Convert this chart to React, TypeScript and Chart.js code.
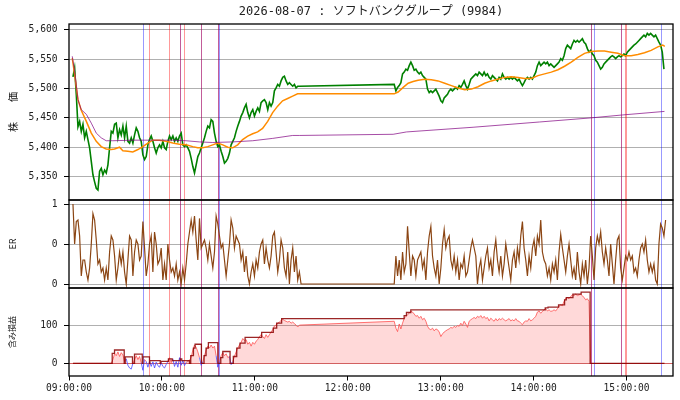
import { useEffect, useRef } from "react"
import { Chart, registerables } from "chart.js"

Chart.register(...registerables)

const TITLE = "2026-08-07 : ソフトバンクグループ (9984)"
const MONO = "'DejaVu Sans Mono', 'Noto Sans CJK JP', monospace"
const JP = "'Noto Sans CJK JP', sans-serif"

// x values are minutes after 09:00; sampled series use a fixed step
const AM_START = 2.56
const PM_START = 210
const STEP = 1.075

const X_TICK_MINUTES = [0, 60, 120, 180, 240, 300, 360]
const X_TICK_LABELS = ["09:00:00", "10:00:00", "11:00:00", "12:00:00", "13:00:00", "14:00:00", "15:00:00"]
const PRICE_TICKS = [5350, 5400, 5450, 5500, 5550, 5600]
const ER_TICKS = [0, 0.5, 1]
const ER_TICK_LABELS = ["0", "0", "1"]
const PROFIT_TICKS = [0, 100]

const priceAM = [
  5520, 5535, 5490, 5435, 5444, 5427, 5439, 5416, 5427, 5413,
  5399, 5376, 5353, 5341, 5330, 5327, 5359, 5364, 5353, 5361,
  5356, 5370, 5399, 5427, 5424, 5439, 5441, 5416, 5430, 5421,
  5436, 5416, 5436, 5410, 5407, 5416, 5407, 5421, 5433, 5427,
  5416, 5410, 5387, 5379, 5384, 5404, 5413, 5419, 5410, 5399,
  5390, 5399, 5404, 5399, 5410, 5399, 5396, 5410, 5419, 5413,
  5419, 5410, 5416, 5410, 5419, 5424, 5404, 5401, 5404, 5399,
  5393, 5381, 5367, 5356, 5370, 5384, 5390, 5399, 5407, 5416,
  5427, 5436, 5433, 5447, 5444, 5424, 5410, 5401, 5404, 5393,
  5384, 5373, 5376, 5381, 5390, 5404, 5410, 5416, 5427, 5436,
  5444, 5453, 5459, 5467, 5473, 5459, 5450, 5459, 5464, 5453,
  5461, 5467, 5461, 5476, 5479, 5481, 5476, 5464, 5476, 5470,
  5476, 5496, 5501, 5507, 5504, 5513, 5519, 5521, 5513, 5507,
  5510, 5507, 5504, 5507, 5501, 5504, 5504,
]

const pricePM = [
  5507, 5496, 5502, 5505, 5510, 5525, 5528, 5533, 5531, 5539,
  5545, 5539, 5531, 5533, 5528, 5525, 5528, 5522, 5519, 5516,
  5499, 5493, 5496, 5493, 5496, 5499, 5493, 5487, 5479, 5476,
  5484, 5487, 5490, 5496, 5499, 5496, 5499, 5502, 5499, 5505,
  5502, 5507, 5513, 5505, 5499, 5507, 5516, 5519, 5522, 5525,
  5522, 5528, 5525, 5522, 5528, 5522, 5525, 5519, 5516, 5522,
  5519, 5516, 5513, 5519, 5516, 5525, 5519, 5516, 5519, 5516,
  5519, 5516, 5519, 5516, 5513, 5516, 5510, 5505, 5510, 5516,
  5519, 5516, 5519, 5516, 5522, 5528, 5539, 5545, 5539, 5542,
  5545, 5542, 5545, 5539, 5542, 5539, 5536, 5539, 5542, 5545,
  5551, 5548, 5556, 5568, 5574, 5571, 5568, 5576, 5582, 5579,
  5582, 5579, 5582, 5585, 5579, 5576, 5568, 5562, 5565, 5559,
  5556, 5548, 5545, 5539, 5533, 5536, 5542, 5545, 5548, 5551,
  5554, 5556, 5554, 5551, 5554, 5556, 5554, 5556, 5559, 5556,
  5562, 5565, 5568, 5571, 5574, 5576, 5579, 5582, 5585, 5588,
  5591, 5588, 5594, 5591, 5594, 5591, 5588, 5591, 5585, 5579,
  5574, 5562, 5533,
]

const maTimes = [
  2.1, 3.6, 5.8, 7.9, 11.2, 14.4, 17.6, 20.8, 24.0, 27.3, 29.4, 32.6, 34.8, 38.0, 41.2,
  44.5, 47.7, 50.9, 54.1, 58.4, 62.7, 67.0, 71.3, 75.6, 79.9, 83.1, 86.4, 89.6, 92.8,
  96.0, 99.3, 102.5, 105.7, 108.9, 112.1, 115.4, 118.6, 121.8, 125.0, 128.3, 131.5,
  134.7, 137.9, 141.2, 144.4, 147.6, 150,
  210.0, 212.5, 215.8, 219.0, 222.2, 225.4, 229.7, 234.0, 238.3, 242.6, 246.9, 251.2,
  255.5, 259.8, 264.1, 268.4, 272.7, 277.0, 281.3, 285.6, 289.9, 294.2, 298.5, 302.8,
  307.1, 311.4, 315.7, 320.0, 324.3, 328.6, 332.9, 337.2, 341.5, 345.8, 350.1, 354.4,
  358.7, 363.0, 367.3, 371.6, 375.9, 380.2, 383.4, 384.7,
]
const maValues = [
  5552, 5525, 5481, 5463, 5444, 5424, 5410, 5401, 5397, 5396, 5397, 5400, 5394, 5393, 5392,
  5396, 5401, 5407, 5412, 5412, 5410, 5407, 5405, 5404, 5401, 5399, 5399, 5401, 5404,
  5407, 5404, 5400, 5399, 5404, 5413, 5419, 5423, 5426, 5432, 5444, 5459,
  5470, 5479, 5483, 5487, 5491, 5491,
  5491, 5494, 5502, 5509, 5512, 5514, 5516, 5515, 5513, 5509, 5505, 5501,
  5498, 5499, 5503, 5509, 5513, 5516, 5519, 5520, 5519, 5517, 5517, 5522,
  5525, 5528, 5532, 5538, 5545, 5553, 5560, 5563, 5564, 5564, 5562, 5560,
  5556, 5556, 5558, 5561, 5565, 5571, 5574, 5572,
]

const longTimes = [
  2.1, 3.6, 5.8, 7.9, 11.2, 14.4, 17.6, 20.8, 24.0, 28.3, 41.2, 54.1, 67.0, 75.6,
  84.2, 92.8, 105.7, 118.6, 131.5, 144.4, 148.7, 209.3, 217.9, 260.9, 303.9, 337.2,
  357.6, 384.5,
]
const longValues = [
  5555, 5530, 5481, 5464, 5456, 5441, 5424, 5416, 5411, 5411, 5412, 5412, 5412, 5411,
  5409, 5408, 5409, 5411, 5415, 5420, 5420, 5422, 5426, 5434, 5443, 5450,
  5455, 5461,
]

const erAM = [
  1.0, 0.5, 0.78, 0.8, 0.6, 0.1, 0.3, 0.3, 0.15, 0.05,
  0.2, 0.5, 0.88, 0.8, 0.55, 0.25, 0.3, 0.15, 0.2, 0.05,
  0.2, 0.05, 0.4, 0.6, 0.55, 0.35, 0.05, 0.2, 0.4, 0.25,
  0.4, 0.15, 0.0, 0.3, 0.6, 0.55, 0.1, 0.4, 0.55, 0.5,
  0.3, 0.35, 0.78, 0.45, 0.1, 0.25, 0.5, 0.6, 0.15, 0.65,
  0.5, 0.25, 0.3, 0.45, 0.05, 0.25, 0.05, 0.5, 0.3, 0.15,
  0.2, 0.1, 0.25, 0.05, 0.15, 0.0, 0.2, 0.05, 0.25, 0.5,
  0.65, 0.8, 0.65, 0.85, 0.55, 0.3, 0.82, 0.45, 0.5, 0.55,
  0.45, 0.3, 0.5, 0.35, 0.2, 0.4, 0.85, 0.75, 0.6, 0.45,
  0.5, 0.3, 0.1, 0.3, 0.5, 0.8, 0.7, 0.45, 0.6, 0.55,
  0.5, 0.3, 0.4, 0.15, 0.35, 0.1, 0.0, 0.15, 0.25, 0.1,
  0.3, 0.2, 0.4, 0.5, 0.55, 0.25, 0.45, 0.3, 0.2, 0.35,
  0.6, 0.65, 0.4, 0.15, 0.3, 0.55, 0.45, 0.2, 0.1, 0.4,
  0.0, 0.3, 0.45, 0.15, 0.35, 0.05, 0.15, 0.0,
]

const erPM = [
  0.0, 0.35, 0.1, 0.3, 0.05, 0.4, 0.15, 0.25, 0.72, 0.4,
  0.1, 0.35, 0.3, 0.1, 0.3, 0.35, 0.4, 0.2, 0.3, 0.05,
  0.4, 0.6, 0.72, 0.35, 0.2, 0.1, 0.3, 0.0, 0.2, 0.5,
  0.68, 0.45, 0.55, 0.6, 0.3, 0.2, 0.35, 0.15, 0.3, 0.05,
  0.25, 0.2, 0.35, 0.1, 0.15, 0.3, 0.45, 0.55, 0.45, 0.35,
  0.0, 0.2, 0.3, 0.05, 0.2, 0.35, 0.45, 0.2, 0.3, 0.1,
  0.4, 0.55, 0.3, 0.15, 0.35, 0.1, 0.25, 0.5, 0.35, 0.2,
  0.05, 0.3, 0.4, 0.2, 0.45, 0.3, 0.6, 0.78, 0.45, 0.3,
  0.1, 0.35, 0.2, 0.45, 0.55, 0.35, 0.6, 0.5, 0.8, 0.4,
  0.3, 0.25, 0.1, 0.2, 0.05, 0.25, 0.15, 0.3, 0.05, 0.4,
  0.62, 0.45, 0.3, 0.15, 0.35, 0.5, 0.3, 0.1, 0.2, 0.05,
  0.4, 0.15, 0.0, 0.25, 0.1, 0.3, 0.0, 0.2, 0.6, 0.35,
  0.05, 0.45, 0.6, 0.5, 0.65, 0.4, 0.25, 0.45, 0.3, 0.1,
  0.5, 0.25, 0.0, 0.3, 0.55, 0.6, 0.2, 0.05, 0.2, 0.35,
  0.3, 0.4, 0.3, 0.35, 0.15, 0.2, 0.1, 0.3, 0.45, 0.5,
  0.4, 0.55, 0.3, 0.15, 0.25, 0.15, 0.25, 0.05, 0.0, 0.5,
  0.75, 0.7, 0.6, 0.8,
]

const profitAM = [
  0, 0, 0, 0, 0, 0, 0, 0, 0, 0,
  0, 0, 0, 0, 0, 0, 0, 0, 0, 0,
  0, 0, 0, 0, 10, 25, 20, 30, 18, 28,
  22, 5, 12, -5, -12, -15, 0, 10, 20, 10,
  18, 2, -18, 10, 5, -10, 5, -8, 4, -12,
  3, -6, -10, 2, -8, -12, -3, 5, 15, 2,
  12, -8, 5, -10, 15, -5, 8, -6, 3, 5,
  8, 15, 35, 48, 42, 30, 15, -5, 5, 20,
  35, 45, 40, 48, 40, 45, 20, -10, 5, 20,
  28, 20, 25, 15, 18, -3, 5, 18, 30, 40,
  48, 55, 65, 60, 62, 50, 55, 45, 55, 50,
  58, 62, 70, 75, 70, 65, 75, 68, 75, 82,
  88, 98, 100, 105, 108, 112, 115, 112, 110, 108,
  110, 105, 108, 104, 100, 95, 100,
]

const profitPM = [
  110, 92, 83, 103, 90, 105, 118, 123, 127, 131,
  136, 134, 129, 123, 125, 118, 123, 114, 118, 110,
  97, 90, 88, 92, 85, 90, 88, 82, 70, 77,
  82, 85, 88, 90, 94, 92, 97, 94, 99, 97,
  105, 99, 110, 103, 94, 110, 114, 117, 120, 117,
  123, 120, 125, 118, 123, 117, 120, 111, 118, 114,
  110, 117, 111, 117, 114, 118, 114, 111, 114, 117,
  111, 114, 111, 117, 111, 110, 105, 101, 108, 111,
  110, 117, 111, 114, 118, 123, 134, 137, 131, 136,
  140, 143, 137, 140, 136, 137, 140, 137, 143, 149,
  153, 151, 162, 170, 172, 169, 175, 179, 177, 181,
  177, 179, 181, 177, 172, 166, 169, 162, 0,
]

// running peak of the open position: value holds from its time to the next one
const peakTimes = [
  2.56, 27.9, 29.4, 35.65, 36.3, 41.0, 42.3, 47.3, 47.7, 51.97, 52.2, 58.9, 59.3, 64.2,
  66.6, 71.8, 72.8, 77.8, 78.6, 80.35, 81.4, 85.5, 87.2, 88.5, 90.0, 96.1, 98.0, 99.3,
  104.0, 106.1, 108.3, 110.4, 113.7, 124.4, 131.9, 134.1, 137.3, 216.4, 217.9, 220.7,
  307.5, 309.3, 316.1, 320.0, 321.1, 325.4, 330.7, 336.5, 384.5,
]
const peakValues = [
  0, 26, 35, 0, 17, 0, 24, 0, 17, 0, 7, 0, 5, 12,
  7, 12, 7, 0, 20, 40, 50, 0, 20, 40, 54, 0, 15, 31,
  0, 18, 40, 53, 68, 81, 92, 105, 117, 125, 133, 140,
  145, 147, 153, 166, 172, 181, 186, 0, 0,
]

const entryTimes = [47.46, 71.57, 85.5, 96.08, 96.59, 337.23, 338.91, 356.57, 382.56]
const exitTimes = [51.97, 64.48, 71.96, 74.15, 85.5, 96.08, 337.23, 356.57, 359.15, 359.8]

const sampled = (start: number, values: number[]) =>
  values.map((y, i) => ({ x: start + i * STEP, y }))
const paired = (times: number[], values: number[]) =>
  times.map((x, i) => ({ x, y: values[i] }))

const tickFont = { family: MONO, size: 9.6 }

const panelsPlugin = {
  id: "panels",
  beforeDatasetsDraw(chart: any) {
    const { ctx, chartArea, scales } = chart
    ctx.save()
    ctx.lineWidth = 1
    const draw = (times: number[], color: string) => {
      ctx.strokeStyle = color
      times.forEach((t) => {
        const px = Math.round(scales.x.getPixelForValue(t)) + 0.5
        ctx.beginPath()
        ctx.moveTo(px, chartArea.top)
        ctx.lineTo(px, chartArea.bottom)
        ctx.stroke()
      })
    }
    draw(entryTimes, "rgba(0, 0, 255, 0.4)")
    draw(exitTimes, "rgba(255, 0, 0, 0.4)")
    ctx.restore()
  },
  afterDatasetsDraw(chart: any) {
    const { ctx, chartArea, scales } = chart
    ctx.save()
    ctx.strokeStyle = "#000"
    ctx.lineWidth = 1.3
    ;["yPrice", "yEr", "yProfit"].forEach((id) => {
      const s = scales[id]
      ctx.strokeRect(chartArea.left, s.top, chartArea.right - chartArea.left, s.bottom - s.top)
    })
    ctx.restore()
  },
}

function yAxis(weight: number, min: number, max: number, ticks: number[], label: (v: number, i: number) => string, title: string, titleFont: any) {
  return {
    type: "linear" as const,
    position: "left" as const,
    stack: "panels",
    stackWeight: weight,
    min,
    max,
    afterBuildTicks: (scale: any) => {
      scale.ticks = ticks.map((value) => ({ value }))
    },
    afterFit: (scale: any) => {
      scale.width = 69
    },
    ticks: {
      callback: (v: any, i: number) => label(Number(v), i),
      font: tickFont,
      color: "#222",
      padding: 6.5,
      autoSkip: false,
    },
    grid: {
      color: (c: any) => (title === "含み損益" && c.tick && c.tick.value === 0 ? "rgba(205, 80, 80, 0.9)" : "#b0b0b0"),
      lineWidth: 1,
      tickLength: 5,
      tickColor: "#000",
    },
    border: { display: false },
    title: {
      display: true,
      text: title,
      font: titleFont,
      color: "#111",
      padding: { top: 7, bottom: 0 },
    },
  }
}

export default function App() {
  const chartRef = useRef<HTMLCanvasElement>(null)
  const chartInstance = useRef<Chart | null>(null)

  useEffect(() => {
    document.body.style.margin = "0"
    if (!chartRef.current) return

    if (chartInstance.current) {
      chartInstance.current.destroy()
    }

    const ctx = chartRef.current.getContext("2d")
    if (!ctx) return

    chartInstance.current = new Chart(ctx, {
      type: "line",
      data: {
        datasets: [
          {
            label: "peak",
            data: paired(peakTimes, peakValues),
            yAxisID: "yProfit",
            borderColor: "rgba(139, 0, 0, 0.85)",
            borderWidth: 1.3,
            stepped: true,
            order: 0,
          },
          {
            label: "含み損益",
            data: [...sampled(AM_START, profitAM), ...sampled(PM_START, profitPM)],
            yAxisID: "yProfit",
            borderColor: "rgba(255, 80, 80, 0.8)",
            borderWidth: 1,
            segment: {
              borderColor: (c: any) =>
                c.p0.parsed.y < 0 || c.p1.parsed.y < 0 ? "rgba(70, 70, 255, 0.8)" : undefined,
            },
            fill: { target: "origin", above: "rgba(255, 0, 0, 0.15)", below: "rgba(0, 0, 0, 0)" },
            order: 1,
          },
          {
            label: "ER",
            data: [...sampled(AM_START, erAM), ...sampled(PM_START, erPM)],
            yAxisID: "yEr",
            borderColor: "#8b4513",
            borderWidth: 1.2,
            order: 2,
          },
          {
            label: "long",
            data: paired(longTimes, longValues),
            yAxisID: "yPrice",
            borderColor: "rgba(128, 0, 128, 0.7)",
            borderWidth: 1,
            order: 3,
          },
          {
            label: "ma",
            data: paired(maTimes, maValues),
            yAxisID: "yPrice",
            borderColor: "#ff8c00",
            borderWidth: 1.5,
            order: 4,
          },
          {
            label: "株価",
            data: [...sampled(AM_START, priceAM), ...sampled(PM_START, pricePM)],
            yAxisID: "yPrice",
            borderColor: "#008000",
            borderWidth: 1.6,
            order: 5,
          },
        ],
      },
      options: {
        responsive: true,
        maintainAspectRatio: false,
        animation: false,
        parsing: false,
        elements: {
          point: { radius: 0 },
          line: { tension: 0 },
        },
        layout: { padding: { left: 0, right: 7, top: 0, bottom: 0 } },
        scales: {
          x: {
            type: "linear",
            min: 0,
            max: 390,
            afterBuildTicks: (scale: any) => {
              scale.ticks = X_TICK_MINUTES.map((value) => ({ value }))
            },
            afterFit: (scale: any) => {
              scale.height = 24
            },
            ticks: {
              callback: (_v: any, i: number) => X_TICK_LABELS[i],
              font: tickFont,
              color: "#222",
              padding: 2,
              maxRotation: 0,
              autoSkip: false,
            },
            grid: { drawOnChartArea: false, drawTicks: true, tickLength: 4.5, tickColor: "#000" },
            border: { display: false },
          },
          yProfit: yAxis(1, -33, 197, PROFIT_TICKS, (v) => String(v), "含み損益", { family: JP, size: 8 }),
          yEr: yAxis(1, -0.05, 1.05, ER_TICKS, (_v, i) => ER_TICK_LABELS[i], "ER", { family: JP, size: 9 }),
          yPrice: yAxis(2, 5310, 5610, PRICE_TICKS, (v) => v.toLocaleString("en-US"), "株　　価", { family: JP, size: 10 }),
        } as any,
        plugins: {
          legend: { display: false },
          tooltip: { enabled: false },
          title: {
            display: true,
            text: TITLE,
            fullSize: false,
            font: { family: MONO, size: 12, weight: "normal" },
            color: "#222",
            padding: { top: 5, bottom: 4.6 },
          },
        },
      },
      plugins: [panelsPlugin],
    })

    return () => {
      if (chartInstance.current) {
        chartInstance.current.destroy()
        chartInstance.current = null
      }
    }
  }, [])

  return (
    <div style={{ position: "relative", width: 680, height: 400 }}>
      <canvas ref={chartRef} />
    </div>
  )
}
